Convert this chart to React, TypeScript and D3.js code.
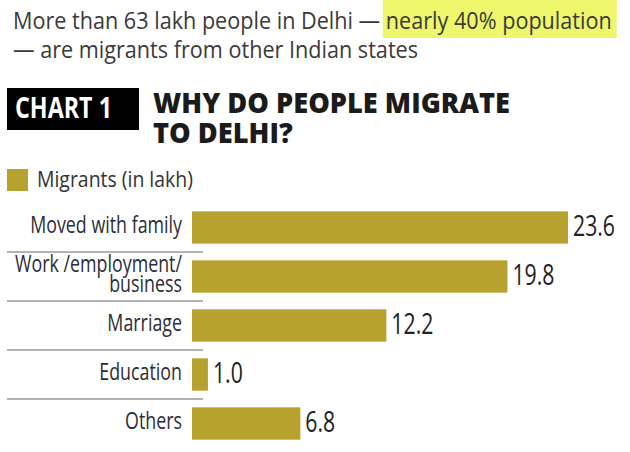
import React, { useEffect, useRef } from 'react';
import * as d3 from 'd3';

// chart data
const categories = ['Moved with family', 'Work /employment/\nbusiness', 'Marriage', 'Education', 'Others'];
const migrants = [23.6, 19.8, 12.2, 1.0, 6.8];
const seriesName = 'Migrants (in lakh)';

// header texts
const headlineLead = 'More than 63 lakh people in Delhi — ';
const headlineHighlight = 'nearly 40% population';
const headlineTail = '— are migrants from other Indian states';
const chartTag = 'CHART 1';
const titleLines = ['WHY DO PEOPLE MIGRATE', 'TO DELHI?'];

const App: React.FC = () => {
    const svgRef = useRef<SVGSVGElement>(null);

    useEffect(() => {
        const width = 630;
        const height = 452;
        const font = "'Open Sans', 'Noto Sans', sans-serif";
        const barColor = '#b8a22f';

        const svg = d3.select(svgRef.current);
        svg.selectAll('*').remove();
        svg.attr('width', width).attr('height', height).style('background', '#fff');

        // fonts here are wider than the original, so squeeze text horizontally
        const squeeze = (g: any, text: any, target: number, x: number) => {
            const len = (text.node() as SVGTextElement).getComputedTextLength();
            const k = target / len;
            g.attr('transform', `translate(${x},0) scale(${k},1)`);
            return k;
        };

        // Headline with highlight
        const head = svg.append('g');
        const hl = head.append('rect').attr('fill', '#eef76c');
        const line1 = head.append('text')
            .attr('y', 29)
            .attr('font-family', font)
            .attr('font-size', 23)
            .attr('fill', '#3a3a3a');
        line1.append('tspan').text(headlineLead);
        line1.append('tspan').text(headlineHighlight);
        head.append('text')
            .attr('y', 58)
            .attr('font-family', font)
            .attr('font-size', 23)
            .attr('fill', '#3a3a3a')
            .text(headlineTail);
        const k1 = squeeze(head, line1, 599, 13);
        const node1 = line1.node() as SVGTextElement;
        const total = node1.getComputedTextLength();
        const hx = node1.getStartPositionOfChar(headlineLead.length).x;
        hl.attr('x', hx - 3 / k1)
            .attr('y', 0)
            .attr('width', total - hx + 8 / k1)
            .attr('height', 38);

        // CHART 1 tag
        svg.append('rect')
            .attr('x', 7).attr('y', 88)
            .attr('width', 132).attr('height', 42)
            .attr('fill', '#000');
        const tagG = svg.append('g');
        const tag = tagG.append('text')
            .attr('y', 118)
            .attr('font-family', font)
            .attr('font-weight', 700)
            .attr('font-size', 28)
            .attr('fill', '#fff')
            .text(chartTag);
        squeeze(tagG, tag, 97, 15);

        // Title
        const titleG = svg.append('g');
        const titles = titleLines.map((t, i) => titleG.append('text')
            .attr('y', 113 + i * 30)
            .attr('font-family', font)
            .attr('font-weight', 800)
            .attr('font-size', 28)
            .attr('fill', '#1b1b1b')
            .text(t));
        squeeze(titleG, titles[0], 357, 153);

        // Legend
        svg.append('rect')
            .attr('x', 7).attr('y', 169)
            .attr('width', 21).attr('height', 22)
            .attr('fill', barColor);
        const legG = svg.append('g');
        const leg = legG.append('text')
            .attr('y', 187)
            .attr('font-family', font)
            .attr('font-size', 21)
            .attr('fill', '#333')
            .text(seriesName);
        squeeze(legG, leg, 156, 37);

        // Scales
        const x = d3.scaleLinear()
            .domain([0, d3.max(migrants) || 1])
            .range([192, 568]);

        const y = d3.scaleBand()
            .domain(categories)
            .range([203, 448])
            .paddingInner(0.34)
            .paddingOuter(0.17);

        const step = y.step();
        const bw = y.bandwidth();

        // Separators between rows
        svg.selectAll('line.sep')
            .data(categories.slice(1))
            .enter()
            .append('line')
            .attr('x1', 7).attr('x2', 203)
            .attr('y1', d => (y(d) || 0) - (step - bw) / 2)
            .attr('y2', d => (y(d) || 0) - (step - bw) / 2)
            .attr('stroke', '#9a9a9a')
            .attr('stroke-width', 1.5);

        // Bars
        svg.selectAll('rect.bar')
            .data(migrants)
            .enter()
            .append('rect')
            .attr('x', x(0))
            .attr('y', (d, i) => y(categories[i]) || 0)
            .attr('width', d => x(d) - x(0))
            .attr('height', bw)
            .attr('fill', barColor);

        // Category labels
        const catG = svg.append('g');
        const catTexts = categories.map(c => {
            const lines = c.split('\n');
            const cy = (y(c) || 0) + bw / 2;
            const t = catG.append('text')
                .attr('font-family', font)
                .attr('font-size', 23)
                .attr('fill', '#2c2c38')
                .attr('text-anchor', 'end');
            lines.forEach((l, i) => {
                t.append('tspan')
                    .attr('x', 0)
                    .attr('y', cy + 6 + (i - (lines.length - 1) / 2) * 20)
                    .text(l);
            });
            return t;
        });
        // fit the widest row label ("Work /employment/")
        const wNode = catTexts[1].select('tspan').node() as SVGTSpanElement;
        const wLen = wNode.getComputedTextLength();
        catG.attr('transform', `translate(182,0) scale(${167 / wLen},1)`);

        // Value labels
        const valG = svg.append('g');
        const valTexts = migrants.map((v, i) => valG.append('text')
            .attr('x', 0)
            .attr('y', (y(categories[i]) || 0) + bw / 2 + 9)
            .attr('font-family', font)
            .attr('font-size', 29)
            .attr('fill', '#222')
            .text(v.toFixed(1)));
        const len0 = (valTexts[0].node() as SVGTextElement).getComputedTextLength();
        const kv = 42 / len0;
        valTexts.forEach((t, i) => {
            t.attr('transform', `translate(${x(migrants[i]) + 5},0) scale(${kv},1)`);
        });
    }, []);

    return (
        <svg ref={svgRef} style={{ position: 'absolute', left: 0, top: 0, display: 'block' }}></svg>
    );
};

export default App;
